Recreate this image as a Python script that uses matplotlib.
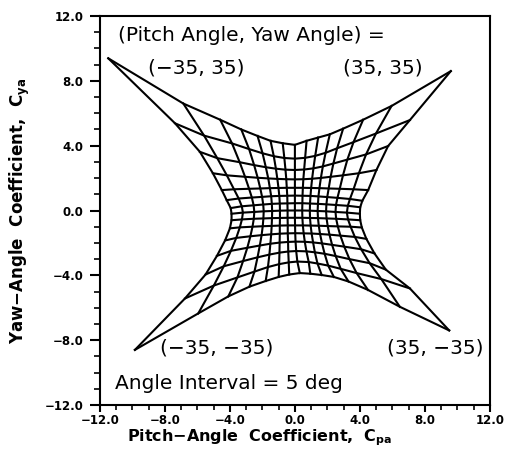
import matplotlib
matplotlib.use('Agg')
import matplotlib.pyplot as plt
from matplotlib.ticker import MultipleLocator

# Calibration grid: pitch and yaw angles, deg
pitch = [-35, -30, -25, -20, -15, -10, -5, 0, 5, 10, 15, 20, 25, 30, 35]
yaw = [35, 30, 25, 20, 15, 10, 5, 0, -5, -10, -15, -20, -25, -30, -35]

# Pitch-angle coefficient, one row per yaw angle (rows follow `yaw`, columns follow `pitch`)
cpa = [
    [-11.49, -6.87, -4.60, -3.30, -2.30, -1.50, -0.75, 0.00, 0.72, 1.43, 2.15, 2.97, 4.20, 5.95, 9.60],
    [-7.38, -5.59, -3.87, -2.82, -1.99, -1.30, -0.65, 0.00, 0.63, 1.25, 1.89, 2.60, 3.61, 4.99, 7.08],
    [-5.85, -4.78, -3.40, -2.51, -1.79, -1.17, -0.58, 0.00, 0.57, 1.14, 1.72, 2.37, 3.23, 4.38, 5.74],
    [-5.05, -4.19, -3.07, -2.29, -1.64, -1.08, -0.53, 0.00, 0.52, 1.06, 1.60, 2.20, 2.96, 3.94, 5.02],
    [-4.50, -3.75, -2.82, -2.13, -1.54, -1.01, -0.50, 0.00, 0.49, 1.00, 1.51, 2.08, 2.76, 3.61, 4.51],
    [-4.20, -3.46, -2.65, -2.02, -1.46, -0.96, -0.47, 0.00, 0.47, 0.96, 1.45, 1.99, 2.62, 3.39, 4.15],
    [-3.95, -3.27, -2.54, -1.95, -1.42, -0.93, -0.46, 0.00, 0.46, 0.93, 1.42, 1.94, 2.53, 3.26, 4.02],
    [-3.90, -3.20, -2.50, -1.92, -1.40, -0.92, -0.45, 0.00, 0.45, 0.92, 1.40, 1.92, 2.50, 3.20, 4.00],
    [-3.90, -3.26, -2.53, -1.94, -1.41, -0.92, -0.45, 0.00, 0.46, 0.93, 1.42, 1.95, 2.54, 3.27, 4.02],
    [-4.00, -3.39, -2.61, -1.98, -1.43, -0.93, -0.44, 0.01, 0.49, 0.97, 1.47, 2.02, 2.64, 3.43, 4.12],
    [-4.30, -3.61, -2.74, -2.05, -1.46, -0.93, -0.44, 0.02, 0.54, 1.03, 1.55, 2.13, 2.80, 3.69, 4.40],
    [-4.80, -3.94, -2.93, -2.16, -1.51, -0.94, -0.42, 0.04, 0.61, 1.12, 1.67, 2.29, 3.04, 4.08, 4.90],
    [-5.50, -4.38, -3.19, -2.30, -1.57, -0.95, -0.41, 0.08, 0.71, 1.23, 1.83, 2.51, 3.36, 4.60, 5.60],
    [-6.77, -4.99, -3.54, -2.49, -1.66, -0.97, -0.38, 0.15, 0.85, 1.39, 2.05, 2.82, 3.80, 5.32, 7.08],
    [-9.85, -5.95, -4.10, -2.80, -1.80, -1.00, -0.35, 0.30, 0.95, 1.65, 2.40, 3.30, 4.50, 6.46, 9.50],
]

# Yaw-angle coefficient, same layout
cya = [
    [9.39, 6.60, 5.60, 5.00, 4.60, 4.30, 4.15, 4.05, 4.30, 4.50, 4.70, 5.05, 5.60, 6.45, 8.60],
    [5.38, 4.62, 4.14, 3.79, 3.53, 3.35, 3.24, 3.20, 3.25, 3.37, 3.56, 3.84, 4.22, 4.75, 5.58],
    [3.62, 3.23, 2.98, 2.80, 2.67, 2.58, 2.52, 2.50, 2.53, 2.60, 2.72, 2.90, 3.14, 3.46, 3.98],
    [2.30, 2.17, 2.08, 2.02, 1.98, 1.95, 1.93, 1.92, 1.93, 1.96, 2.01, 2.08, 2.17, 2.30, 2.50],
    [1.26, 1.31, 1.34, 1.36, 1.38, 1.39, 1.40, 1.40, 1.40, 1.39, 1.38, 1.36, 1.34, 1.31, 1.26],
    [0.64, 0.74, 0.80, 0.84, 0.88, 0.90, 0.91, 0.92, 0.91, 0.90, 0.87, 0.83, 0.78, 0.71, 0.60],
    [0.15, 0.26, 0.32, 0.37, 0.41, 0.43, 0.44, 0.45, 0.45, 0.43, 0.41, 0.38, 0.34, 0.29, 0.20],
    [-0.20, -0.13, -0.09, -0.05, -0.03, -0.01, 0.00, 0.00, 0.00, -0.01, -0.03, -0.05, -0.09, -0.13, -0.20],
    [-0.60, -0.55, -0.51, -0.49, -0.47, -0.46, -0.45, -0.45, -0.45, -0.46, -0.47, -0.49, -0.51, -0.55, -0.60],
    [-1.10, -1.04, -1.00, -0.97, -0.95, -0.93, -0.92, -0.92, -0.92, -0.93, -0.94, -0.96, -0.98, -1.00, -1.05],
    [-1.85, -1.69, -1.59, -1.52, -1.47, -1.43, -1.41, -1.40, -1.41, -1.42, -1.45, -1.49, -1.55, -1.63, -1.75],
    [-2.80, -2.49, -2.30, -2.16, -2.05, -1.98, -1.94, -1.92, -1.93, -1.97, -2.03, -2.12, -2.23, -2.39, -2.65],
    [-3.95, -3.44, -3.12, -2.89, -2.72, -2.60, -2.53, -2.50, -2.52, -2.58, -2.67, -2.81, -3.00, -3.25, -3.65],
    [-5.43, -4.63, -4.13, -3.77, -3.49, -3.31, -3.20, -3.15, -3.18, -3.27, -3.40, -3.60, -3.86, -4.23, -4.81],
    [-8.60, -6.35, -5.30, -4.70, -4.35, -4.10, -3.95, -3.86, -3.90, -3.98, -4.10, -4.38, -4.90, -5.94, -7.40],
]

fig = plt.figure(figsize=(5.06, 4.63), dpi=100)
ax = fig.add_axes([0.1976, 0.1253, 0.7704, 0.8401])

nrow = len(yaw)
ncol = len(pitch)
# lines of constant yaw
for j in range(nrow):
    ax.plot(cpa[j], cya[j], color='black', lw=1.5)
# lines of constant pitch
for i in range(ncol):
    ax.plot([cpa[j][i] for j in range(nrow)], [cya[j][i] for j in range(nrow)],
            color='black', lw=1.5)

ax.set_xlim(-12, 12)
ax.set_ylim(-12, 12)
ax.xaxis.set_major_locator(MultipleLocator(4))
ax.yaxis.set_major_locator(MultipleLocator(4))
ax.xaxis.set_minor_locator(MultipleLocator(1))
ax.yaxis.set_minor_locator(MultipleLocator(1))
ax.xaxis.set_major_formatter(lambda v, p: f'{v:.1f}'.replace('-', '\u2212'))
ax.yaxis.set_major_formatter(lambda v, p: f'{v:.1f}'.replace('-', '\u2212'))
ax.tick_params(which='both', direction='out', top=False, right=False)
ax.tick_params(axis='x', which='major', length=5, width=1.5, pad=1.5)
ax.tick_params(axis='x', which='minor', length=3.5, width=1.2)
ax.tick_params(axis='y', which='major', length=7, width=1.5, pad=5)
ax.tick_params(axis='y', which='minor', length=4, width=1.2)
for lab in ax.get_xticklabels() + ax.get_yticklabels():
    lab.set_fontweight('bold')
    lab.set_fontsize(8.5)
for s in ax.spines.values():
    s.set_linewidth(1.5)

ax.set_xlabel('Pitch\u2212Angle  Coefficient,  C$_{\\mathbf{pa}}$', fontsize=11.5, fontweight='bold')
ax.xaxis.set_label_coords(0.41, -0.058)
ax.set_ylabel('Yaw\u2212Angle  Coefficient,  C$_{\\mathbf{ya}}$', fontsize=12, fontweight='bold')
ax.yaxis.set_label_coords(-0.175, 0.5)

tf = dict(family='DejaVu Sans', fontsize=14.5)
ax.text(-10.9, 10.8, '(Pitch Angle, Yaw Angle) =', va='center', **tf)
ax.text(-9.05, 8.8, '(\u221235, 35)', va='center', **tf)
ax.text(2.95, 8.8, '(35, 35)', va='center', **tf)
ax.text(-8.3, -8.5, '(\u221235, \u221235)', va='center', **tf)
ax.text(5.65, -8.5, '(35, \u221235)', va='center', **tf)
ax.text(-11.1, -10.7, 'Angle Interval = 5 deg', va='center', **tf)

fig.savefig('out.png', dpi=100)
